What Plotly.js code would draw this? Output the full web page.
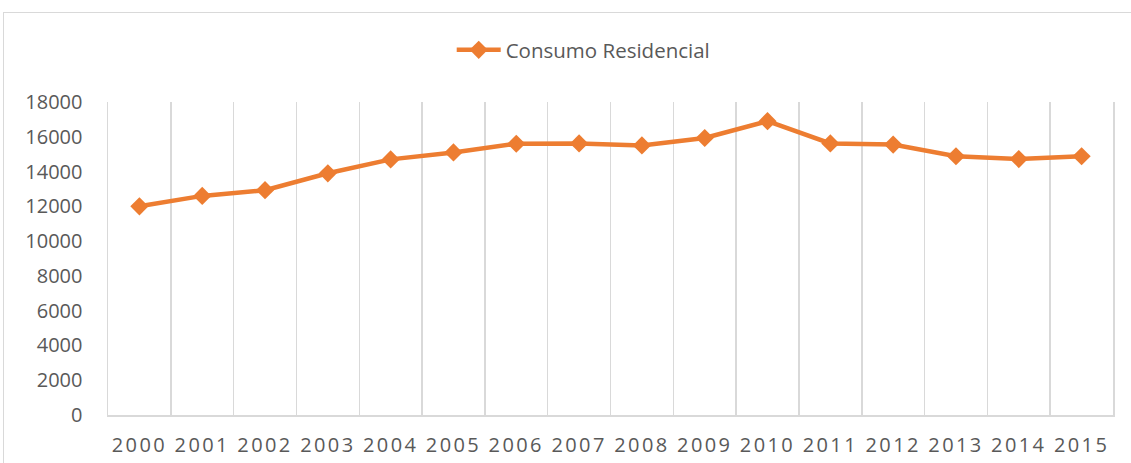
<!DOCTYPE html>
<html>
<head>
<meta charset="utf-8">
<script src="https://cdn.plot.ly/plotly-3.0.1.min.js"></script>
<style>
  html, body { margin: 0; padding: 0; background: #fff; overflow: hidden; }
  #wrap { position: relative; width: 1131px; height: 463px; }
  #chart { width: 1131px; height: 463px; }
  #frame { position: absolute; left: 3px; top: 12px; width: 1300px; height: 700px;
           border: 1px solid #d9d9d9; pointer-events: none; }
  .xtick text { letter-spacing: 2.4px; }
</style>
</head>
<body>
<div id="wrap">
  <div id="chart"></div>
  <div id="frame"></div>
</div>
<script>
const years = ["2000","2001","2002","2003","2004","2005","2006","2007","2008","2009","2010","2011","2012","2013","2014","2015"];
const consumoResidencial = [12000,12600,12930,13900,14700,15100,15600,15620,15500,15930,16900,15620,15550,14880,14720,14880];
const seriesName = "Consumo Residencial";

const orange = "#ED7D31";
const grid = "#d9d9d9";
const textColor = "#595959";
const fontFamily = "'Open Sans', 'Liberation Sans', sans-serif";

const trace = {
  x: years,
  y: consumoResidencial,
  name: seriesName,
  type: "scatter",
  mode: "lines+markers",
  line: { color: orange, width: 4.5 },
  marker: { symbol: "diamond", size: 14, color: orange },
  showlegend: true
};

const layout = {
  width: 1131,
  height: 463,
  paper_bgcolor: "#fff",
  plot_bgcolor: "#fff",
  margin: { l: 108, r: 18, t: 102, b: 48 },
  font: { family: fontFamily, color: textColor },
  showlegend: true,
  legend: {
    orientation: "h",
    x: 0.342, xanchor: "left",
    y: 1.166, yanchor: "middle",
    itemwidth: 44,
    font: { size: 20.5, color: textColor, family: fontFamily },
    bgcolor: "rgba(0,0,0,0)"
  },
  xaxis: {
    type: "category",
    range: [-0.5, 15.5],
    tickson: "boundaries",
    showgrid: true,
    gridcolor: grid,
    gridwidth: 1.5,
    showline: true,
    linecolor: grid,
    linewidth: 1.5,
    ticks: "",
    zeroline: false,
    ticklabelstandoff: 11,
    tickfont: { size: 20, color: textColor, family: fontFamily },
    fixedrange: true
  },
  yaxis: {
    range: [0, 18000],
    dtick: 2000,
    tick0: 0,
    tickformat: "d",
    showgrid: false,
    zeroline: false,
    showline: true,
    mirror: true,
    linecolor: grid,
    linewidth: 1.5,
    ticks: "",
    ticklabelstandoff: 20,
    tickfont: { size: 20, color: textColor, family: fontFamily },
    fixedrange: true
  }
};

Plotly.newPlot("chart", [trace], layout, { displayModeBar: false, staticPlot: true });
</script>
</body>
</html>
